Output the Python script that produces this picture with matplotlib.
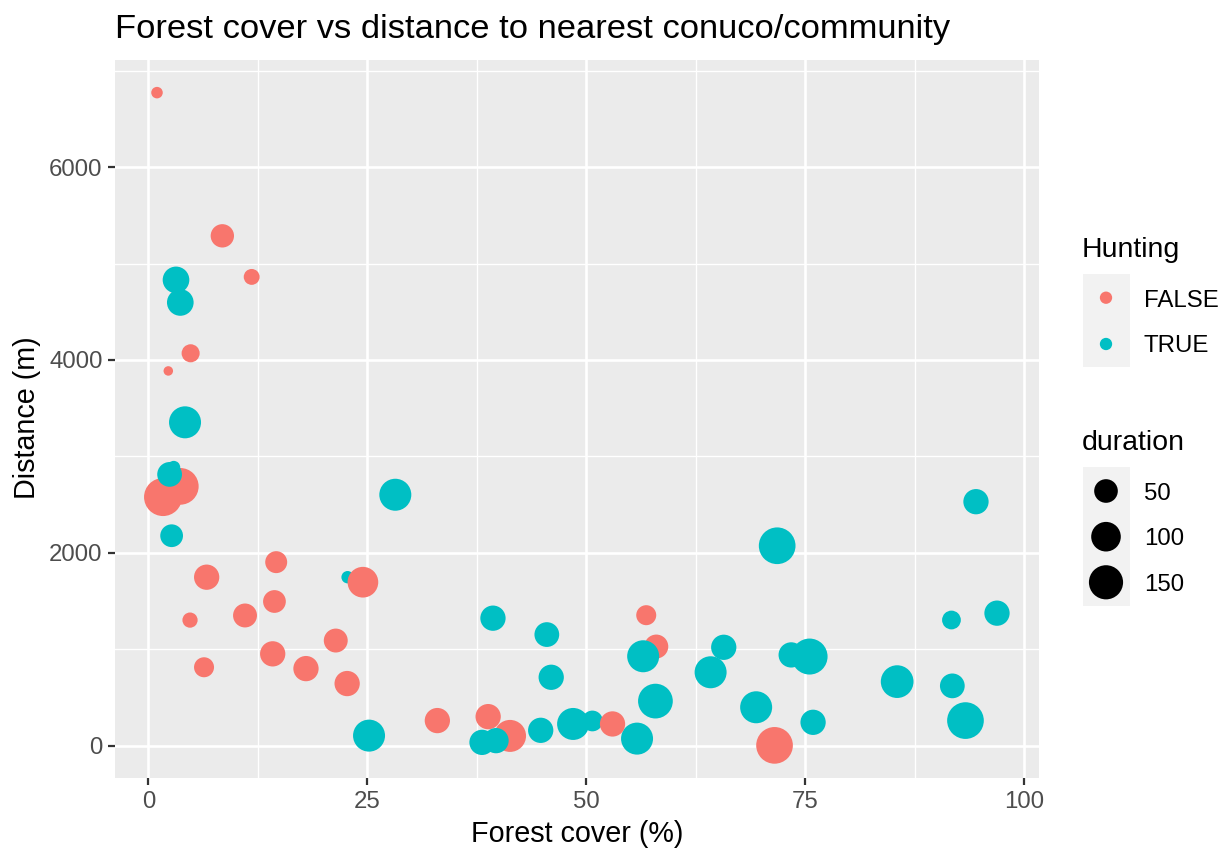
import matplotlib
matplotlib.use("Agg")
import matplotlib.pyplot as plt
from matplotlib.patches import Rectangle
import numpy as np

plt.rcParams['font.family'] = ['Liberation Sans', 'DejaVu Sans']

# data (plot order matters for overlaps)
forest = [22.75, 0.99, 8.45, 11.8, 4.83, 2.28, 3.65, 1.68, 14.6, 6.66, 24.5, 14.4, 4.76,
          11.04, 21.4, 14.2, 6.36, 18.0, 22.7, 33.0, 38.8, 41.3, 56.85, 58.0, 71.5,
          3.16, 3.65, 4.19, 2.9, 2.43, 2.66, 28.2, 25.2, 39.35, 45.5, 46.0, 56.5, 57.9,
          64.2, 65.7, 69.4, 73.4, 75.5, 75.9, 38.1, 39.7, 44.8, 48.5, 50.7, 55.8, 71.8,
          94.5, 96.9, 91.7, 85.5, 91.8, 93.3, 53.0]
distance = [1747, 6772, 5287, 4861, 4069, 3886, 2689, 2578, 1903, 1747, 1695, 1495, 1302,
            1350, 1090, 952, 813, 799, 644, 260, 301, 101, 1353, 1028, 3,
            4830, 4596, 3353, 2886, 2813, 2177, 2602, 104, 1322, 1152, 709, 927, 462,
            761, 1020, 398, 941, 924, 242, 34, 52, 159, 225, 256, 73, 2073,
            2530, 1374, 1303, 664, 620, 260, 225]
duration = [3, 2, 48, 11, 19, 1, 182, 200, 39, 62, 111, 44, 9,
            52, 52, 62, 28, 62, 62, 62, 62, 125, 28, 52, 182,
            73, 73, 125, 4, 58, 44, 125, 125, 62, 58, 62, 125, 157,
            125, 62, 125, 62, 173, 62, 62, 62, 62, 125, 32, 125, 182,
            62, 62, 22, 133, 58, 182, 62]
hunting = [True] + [False] * 24 + [True] * 32 + [False]

legend_durations = [50, 100, 150]
x_ticks = [0, 25, 50, 75, 100]
y_ticks = [0, 2000, 4000, 6000]

RED = '#F8766D'
CYAN = '#00BFC4'

W, H = 1223, 849
fig = plt.figure(figsize=(W / 100, H / 100), dpi=100)


def px_box(l, t, r, b):
    return [l / W, 1 - b / H, (r - l) / W, (b - t) / H]


dmin, dmax = min(duration), max(duration)


def marker_area(d):
    # area scale like ggplot's scale_size: diameter grows with sqrt of value
    d = np.asarray(d, float)
    diam_px = 9.5 + 28.5 * np.sqrt((d - dmin) / (dmax - dmin))
    return (diam_px * 0.72) ** 2


ax = fig.add_axes(px_box(115, 60, 1039, 778))
ax.set_facecolor('#EBEBEB')
for s in ax.spines.values():
    s.set_visible(False)

colors = [CYAN if h else RED for h in hunting]
ax.scatter(forest, distance, s=marker_area(duration), c=colors, linewidths=0, zorder=3)

xr = max(forest) - min(forest)
yr = max(distance) - min(distance)
ax.set_xlim(min(forest) - 0.05 * xr, max(forest) + 0.05 * xr)
ax.set_ylim(min(distance) - 0.05 * yr, max(distance) + 0.05 * yr)

ax.set_xticks(x_ticks)
ax.set_yticks(y_ticks)
ax.set_xticks([12.5, 37.5, 62.5, 87.5], minor=True)
ax.set_yticks([1000, 3000, 5000, 7000], minor=True)
ax.grid(which='major', color='white', lw=1.9)
ax.grid(which='minor', color='white', lw=0.95)
ax.set_axisbelow(True)
ax.tick_params(which='major', length=5, width=1.6, color='#333333',
               labelcolor='#4D4D4D', labelsize=17.3, pad=4)
ax.tick_params(which='minor', length=0)

fig.text(115 / W, 1 - 38.3 / H, 'Forest cover vs distance to nearest conuco/community',
         fontsize=24.8, ha='left', va='baseline')
fig.text(577 / W, 1 - 842 / H, 'Forest cover (%)', fontsize=20.7,
         ha='center', va='baseline')
fig.text(27 / W, 1 - 418 / H, 'Distance (m)', fontsize=20.7, rotation=90,
         ha='center', va='center')

# legends drawn in pixel coordinates
lax = fig.add_axes([0, 0, 1, 1])
lax.set_xlim(0, W)
lax.set_ylim(H, 0)
lax.axis('off')

lax.text(1082, 257.3, 'Hunting', fontsize=20.5, va='baseline')
lax.add_patch(Rectangle((1083, 274), 47, 93, fc='#F2F2F2', ec='none'))
lax.scatter([1106, 1106], [297.7, 344], s=(12.3 * 0.72) ** 2, c=[RED, CYAN], linewidths=0)
lax.text(1144, 307, 'FALSE', fontsize=17.3, va='baseline')
lax.text(1144, 351.7, 'TRUE', fontsize=17.3, va='baseline')

lax.text(1082, 450, 'duration', fontsize=20.5, va='baseline')
lax.add_patch(Rectangle((1083, 466.7), 47, 139.3, fc='#F2F2F2', ec='none'))
key_y = [491, 536.7, 582.3]
lax.scatter([1106] * 3, key_y, s=marker_area(legend_durations), c='black', linewidths=0)
for yy, d in zip(key_y, legend_durations):
    lax.text(1144, yy + 8.5, str(d), fontsize=17.3, va='baseline')

fig.savefig('out.png', dpi=100)
